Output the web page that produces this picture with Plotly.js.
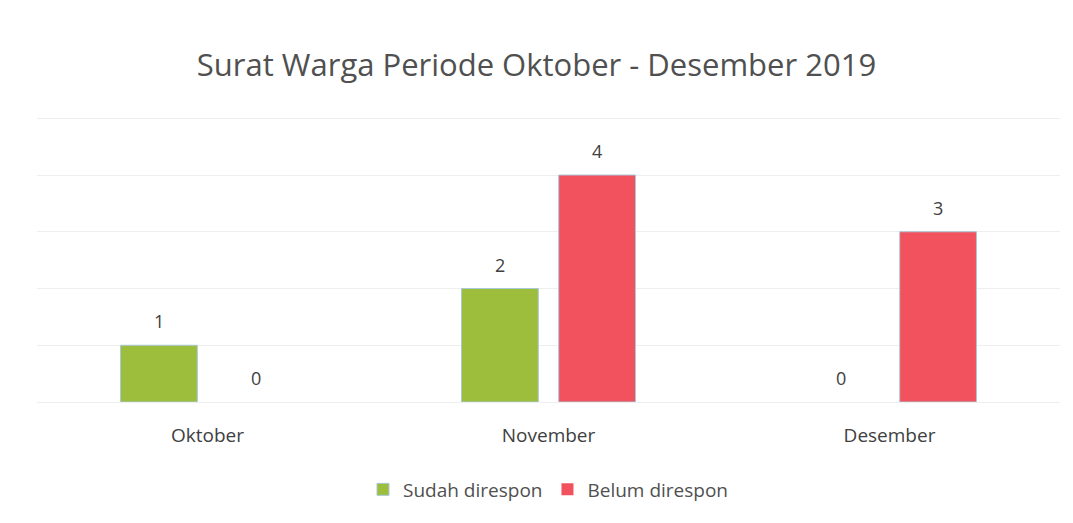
<!DOCTYPE html>
<html><head><meta charset="utf-8">
<script src="https://cdn.plot.ly/plotly-3.0.1.min.js"></script>
<style>html,body{margin:0;padding:0;background:#fff}#c{width:1073px;height:523px}</style>
</head><body><div id="c"></div>
<script>
const months = ["Oktober", "November", "Desember"];
const sudah = [1, 2, 0];
const belum = [0, 4, 3];
const seriesNames = ["Sudah direspon", "Belum direspon"];

const font = "Open Sans, Noto Sans, sans-serif";
function bar(name, vals, color){
  return {type:"bar", name:name, x:months, y:vals, textposition:"none", hoverinfo:"none",
    marker:{color:color, line:{color:"#a9c8d8", width:vals.map(v => v === 0 ? 0 : 1)}}};
}
const traces = [bar(seriesNames[0], sudah, "#9dbd3c"), bar(seriesNames[1], belum, "#f2525e")];

const annotations = [];
[[sudah, -48.5], [belum, 48.5]].forEach(([vals, dx]) => {
  vals.forEach((v, i) => annotations.push({x:months[i], y:v, xref:"x", yref:"y", text:String(v),
    showarrow:false, xshift:dx, yshift:24, yanchor:"middle", font:{size:18, color:"#404040", family:font}}));
});

const layout = {
  width:1073, height:523,
  paper_bgcolor:"#fff", plot_bgcolor:"#fff",
  margin:{l:37, r:13, t:116, b:121},
  title:{text:"Surat Warga Periode Oktober - Desember 2019", x:0.5, xanchor:"center", y:0.875, yanchor:"middle",
         font:{size:31, color:"#505050", family:font}},
  barmode:"group", bargap:0.43, bargroupgap:0.21,
  xaxis:{showgrid:false, zeroline:false, showline:false, ticks:"", tickfont:{size:19,color:"#404040",family:font}, ticklabelstandoff:20},
  yaxis:{range:[0,5.04], dtick:1, showgrid:true, gridcolor:"#eeeeee", gridwidth:1, zeroline:true, zerolinecolor:"#eeeeee", showline:false, showticklabels:false, ticks:""},
  legend:{orientation:"h", x:0.5, xanchor:"center", y:-0.306, yanchor:"middle", font:{size:19,color:"#505050",family:font}, itemwidth:30, traceorder:"normal"},
  annotations:annotations,
  showlegend:true
};
Plotly.newPlot("c", traces, layout, {displayModeBar:false, staticPlot:true});
</script></body></html>
